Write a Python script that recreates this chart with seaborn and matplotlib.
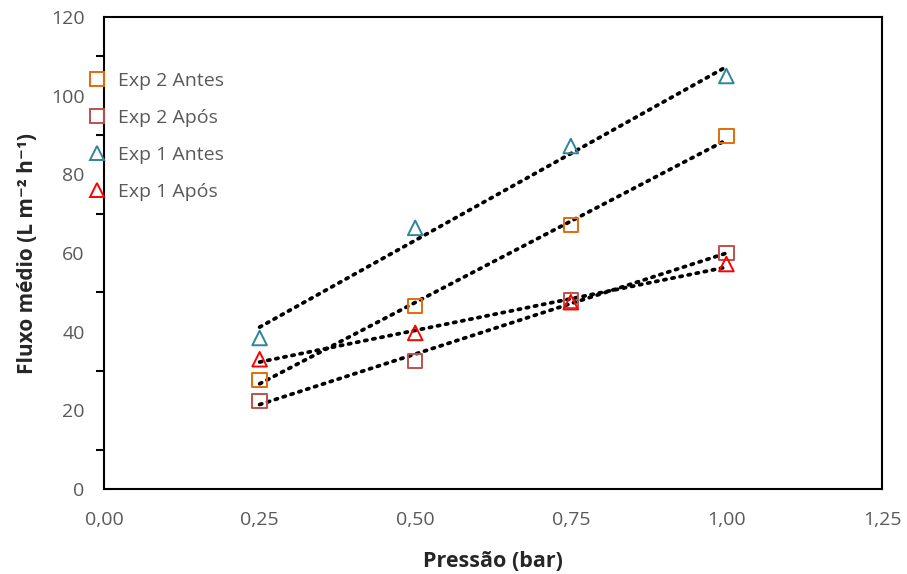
import numpy as np
import pandas as pd
import matplotlib
matplotlib.use('Agg')
import matplotlib.pyplot as plt
from matplotlib.ticker import MultipleLocator, FuncFormatter
import seaborn as sns

# Data
pressao = [0.25, 0.50, 0.75, 1.00]
exp2_antes = [27.7, 46.5, 67.1, 89.7]
exp2_apos = [22.4, 32.5, 48.0, 60.0]
exp1_antes = [38.4, 66.4, 87.2, 105.0]
exp1_apos = [33.0, 39.7, 47.5, 57.2]

series = ['Exp 2 Antes', 'Exp 2 Após', 'Exp 1 Antes', 'Exp 1 Após']
values = [exp2_antes, exp2_apos, exp1_antes, exp1_apos]
colors = ['#E36C0A', '#C0504D', '#31849B', '#FF0000']
markers = ['s', 's', '^', '^']

df = pd.concat([pd.DataFrame({'Pressão': pressao, 'Fluxo': v, 'Série': s})
                for s, v in zip(series, values)], ignore_index=True)

sns.set_style('white')
plt.rcParams['font.family'] = ['Open Sans', 'DejaVu Sans']

fig = plt.figure(figsize=(9.07, 5.74), dpi=100)
ax = fig.add_axes([0.1147, 0.148, 0.8577, 0.8224])

# dotted linear trendlines
for s in series:
    sub = df[df['Série'] == s]
    k, b = np.polyfit(sub['Pressão'], sub['Fluxo'], 1)
    xs = np.array([sub['Pressão'].min(), sub['Pressão'].max()])
    ax.plot(xs, k * xs + b, color='black', linestyle=(0, (0.6, 1.6)),
            linewidth=2.7, dash_capstyle='round', zorder=2)

sns.scatterplot(data=df, x='Pressão', y='Fluxo', hue='Série', style='Série',
                palette=dict(zip(series, colors)), markers=dict(zip(series, markers)),
                s=110, linewidth=1.4, ax=ax, zorder=3, legend=False)
# hollow markers with colored edges
coll = ax.collections[-1]
cmap = dict(zip(series, colors))
coll.set_edgecolors([cmap[s] for s in df['Série']])
coll.set_facecolors('none')

ax.set_xlim(0, 1.25)
ax.set_ylim(0, 120)
ax.xaxis.set_major_locator(MultipleLocator(0.25))
ax.yaxis.set_major_locator(MultipleLocator(20))
ax.yaxis.set_minor_locator(MultipleLocator(10))
ax.xaxis.set_major_formatter(FuncFormatter(lambda v, p: f'{v:.2f}'.replace('.', ',')))
ax.tick_params(axis='both', which='both', direction='out', color='black', width=1.5,
               labelcolor='#595959', labelsize=14)
ax.tick_params(axis='both', which='major', length=6)
ax.tick_params(axis='y', which='minor', length=6, left=True)
ax.tick_params(axis='x', pad=10)
ax.tick_params(axis='y', pad=8)
for sp in ax.spines.values():
    sp.set_color('black')
    sp.set_linewidth(1.5)

ax.set_xlabel('Pressão (bar)', fontsize=15.5, fontweight='bold', labelpad=16)
ax.set_ylabel('Fluxo médio (L m⁻² h⁻¹)', fontsize=15, fontweight='bold', labelpad=9)

handles = [plt.Line2D([], [], linestyle='none', marker=m, markersize=10,
                      markerfacecolor='none', markeredgecolor=c, markeredgewidth=1.4)
           for m, c in zip(markers, colors)]
leg = ax.legend(handles, series, loc='upper left', bbox_to_anchor=(-0.026, 0.9),
                frameon=False, fontsize=14, labelcolor='#595959',
                handlelength=0.6, handletextpad=0.75, labelspacing=0.98, borderaxespad=0)

fig.savefig('out.png', dpi=100)
